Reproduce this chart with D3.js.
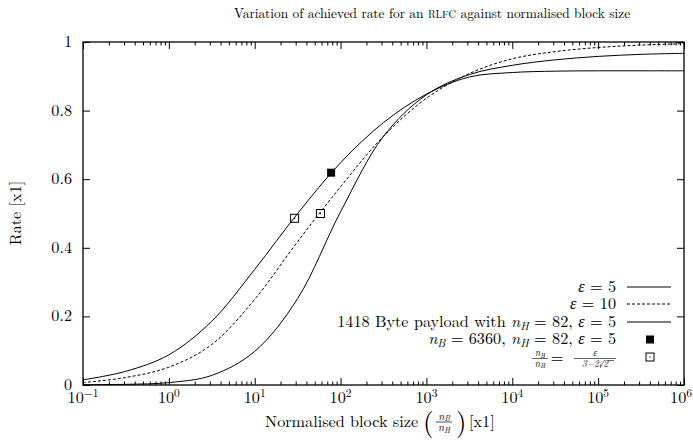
<!DOCTYPE html>
<html><head><meta charset="utf-8">
<script src="https://cdn.jsdelivr.net/npm/d3@7"></script>
<style>body{margin:0;background:#fff}</style>
</head><body><svg id="c" width="693" height="442"></svg>
<script>
// ---- data ----
const xValues = [0.1, 0.316, 1, 3.16, 10, 31.6, 100, 316, 1000, 3162, 10000, 31623, 100000, 316228, 1000000];
const eps5 =        [0.015, 0.040, 0.088, 0.186, 0.337, 0.500, 0.648, 0.765, 0.848, 0.898, 0.911, 0.915, 0.916, 0.916, 0.916];
const eps10 =       [0.007, 0.022, 0.052, 0.118, 0.250, 0.418, 0.578, 0.725, 0.836, 0.908, 0.951, 0.972, 0.984, 0.991, 0.995];
const payload1418 = [0.001, 0.002, 0.007, 0.028, 0.098, 0.252, 0.505, 0.725, 0.846, 0.905, 0.932, 0.948, 0.958, 0.964, 0.967];
const filledX = [77.56], filledY = [0.619];
const openX = [29.14, 58.28], openY = [0.486, 0.500];
const xTicks = [1e-1, 1e0, 1e1, 1e2, 1e3, 1e4, 1e5, 1e6];
const xTickExp = ["\u22121", "0", "1", "2", "3", "4", "5", "6"];
const yTicks = [0, 0.2, 0.4, 0.6, 0.8, 1];
const yTickLabels = ["0", "0.2", "0.4", "0.6", "0.8", "1"];

// ---- layout ----
const svg = d3.select("#c");
const L = 83, R = 684, T = 42, B = 385;
const x = d3.scaleLog().domain([0.1, 1e6]).range([L, R]);
const y = d3.scaleLinear().domain([0, 1]).range([B, T]);
const FS = 16.2;

const minor = [];
for (let e = -1; e < 6; e++) for (let m = 2; m <= 9; m++) minor.push(m * Math.pow(10, e));

function styleAxis(g){ g.select(".domain").remove(); g.selectAll("line").attr("stroke","#000").attr("stroke-width",1); g.selectAll("text").remove(); }
svg.append("g").attr("transform",`translate(0,${B})`).call(d3.axisBottom(x).tickValues(xTicks).tickSize(-7)).call(styleAxis);
svg.append("g").attr("transform",`translate(0,${B})`).call(d3.axisBottom(x).tickValues(minor).tickSize(-3.5)).call(styleAxis);
svg.append("g").attr("transform",`translate(0,${T})`).call(d3.axisTop(x).tickValues(xTicks).tickSize(-7)).call(styleAxis);
svg.append("g").attr("transform",`translate(0,${T})`).call(d3.axisTop(x).tickValues(minor).tickSize(-3.5)).call(styleAxis);
svg.append("g").attr("transform",`translate(${L},0)`).call(d3.axisLeft(y).tickValues(yTicks).tickSize(-7)).call(styleAxis);
svg.append("g").attr("transform",`translate(${R},0)`).call(d3.axisRight(y).tickValues(yTicks).tickSize(-7)).call(styleAxis);

svg.append("rect").attr("x",L).attr("y",T).attr("width",R-L).attr("height",B-T).attr("fill","none").attr("stroke","#000").attr("stroke-width",1.3);

xTicks.forEach((v,i)=>{
  const last = i === xTicks.length - 1;
  const t = svg.append("text").attr("x", last ? 692 : x(v)).attr("y", B+18).attr("text-anchor", last ? "end" : "middle").attr("font-size",FS);
  t.append("tspan").text("10");
  t.append("tspan").attr("dy",-6).attr("font-size",11.5).text(xTickExp[i]);
});
yTicks.forEach((v,i)=>{
  svg.append("text").attr("x", L-11).attr("y", y(v)+5).attr("text-anchor","end").attr("font-size",FS).text(yTickLabels[i]);
});

const title = svg.append("text").attr("x",432).attr("y",18).attr("text-anchor","middle").attr("font-size",13.35);
title.append("tspan").text("Variation of achieved rate for an ");
title.append("tspan").attr("font-size",10.4).text("RLFC");
title.append("tspan").text(" against normalised block size");

svg.append("text").attr("transform","translate(21,213) rotate(-90)").attr("text-anchor","middle").attr("font-size",FS).text("Rate [x1]");

function frac(gx, cy, num, numSub, den, denSub, fs){
  const g = svg.append("g");
  const n = g.append("text").attr("x",gx).attr("y",cy-2.5).attr("text-anchor","middle").attr("font-size",fs).attr("font-style","italic");
  n.append("tspan").text(num); if(numSub) n.append("tspan").attr("font-size",fs*0.7).attr("dy",1.5).text(numSub);
  const d = g.append("text").attr("x",gx).attr("y",cy+fs*0.85).attr("text-anchor","middle").attr("font-size",fs).attr("font-style","italic");
  d.append("tspan").text(den); if(denSub) d.append("tspan").attr("font-size",fs*0.7).attr("dy",1.5).text(denSub);
  return g;
}
svg.append("text").attr("x",265).attr("y",427).attr("font-size",FS).text("Normalised block size");
svg.append("text").attr("x",423).attr("y",431).attr("font-size",27).text("(");
frac(444, 422, "n","B","n","H",11);
svg.append("line").attr("x1",436).attr("x2",452).attr("y1",422).attr("y2",422).attr("stroke","#000").attr("stroke-width",0.7);
svg.append("text").attr("x",456).attr("y",431).attr("font-size",27).text(")");
svg.append("text").attr("x",469).attr("y",427).attr("font-size",FS).text("[x1]");

const line = d3.line().x(d=>x(d[0])).y(d=>y(d[1])).curve(d3.curveCatmullRom.alpha(0.5));
const series = [
  {vals: eps5, dash: null},
  {vals: eps10, dash: "3,2"},
  {vals: payload1418, dash: null}
];
series.forEach(s=>{
  svg.append("path").datum(xValues.map((v,i)=>[v, s.vals[i]]))
    .attr("d", line).attr("fill","none").attr("stroke","#000").attr("stroke-width",1)
    .attr("stroke-dasharray", s.dash);
});

function filledSq(cx, cy){ svg.append("rect").attr("x",cx-4).attr("y",cy-4).attr("width",8).attr("height",8).attr("fill","#000"); }
function openSq(cx, cy){
  svg.append("rect").attr("x",cx-4).attr("y",cy-4).attr("width",8).attr("height",8).attr("fill","none").attr("stroke","#000").attr("stroke-width",1);
  svg.append("rect").attr("x",cx-0.6).attr("y",cy-0.6).attr("width",1.2).attr("height",1.2).attr("fill","#000");
}
filledX.forEach((v,i)=>filledSq(x(v), y(filledY[i])));
openX.forEach((v,i)=>openSq(x(v), y(openY[i])));

// legend
const LX = 616, S1 = 627, S2 = 671;
function legText(yb){ const t = svg.append("text").attr("x",LX).attr("y",yb).attr("text-anchor","end").attr("font-size",FS); t.node()._pend = 0; return t; }
function add(t, s, italic){ const ts = t.append("tspan").text(s); if(italic) ts.attr("font-style","italic"); const p = t.node()._pend; if(p){ ts.attr("dy",p); t.node()._pend = 0; } return ts; }
function it(t, s){ add(t, s, true); }
function plain(t, s){ add(t, s, false); }
function sub(t, s){ const ts = add(t, s, true); ts.attr("font-size",11.5).attr("dy",3); t.node()._pend = -3; }

let t = legText(292); it(t,"\u03b5"); plain(t," = 5");
svg.append("line").attr("x1",S1).attr("x2",S2).attr("y1",287).attr("y2",287).attr("stroke","#000");
t = legText(309); it(t,"\u03b5"); plain(t," = 10");
svg.append("line").attr("x1",S1).attr("x2",S2).attr("y1",304).attr("y2",304).attr("stroke","#000").attr("stroke-dasharray","3,2");
t = legText(326.5); plain(t,"1418 Byte payload with "); it(t,"n"); sub(t,"H"); plain(t," = 82, "); it(t,"\u03b5"); plain(t," = 5");
svg.append("line").attr("x1",S1).attr("x2",S2).attr("y1",322).attr("y2",322).attr("stroke","#000");
t = legText(343.5); it(t,"n"); sub(t,"B"); plain(t," = 6360, "); it(t,"n"); sub(t,"H"); plain(t," = 82, "); it(t,"\u03b5"); plain(t," = 5");
filledSq(650, 339.5);
// fraction row
const FC = 358.5;
frac(540, FC, "n","B","n","H",9.5);
svg.append("line").attr("x1",532).attr("x2",548).attr("y1",FC).attr("y2",FC).attr("stroke","#000").attr("stroke-width",0.6);
svg.append("text").attr("x",557).attr("y",FC+4.5).attr("text-anchor","middle").attr("font-size",FS).text("=");
frac(595, FC, "\u03b5", null, "3\u22122\u221a2", null, 9.5);
svg.append("line").attr("x1",574).attr("x2",616).attr("y1",FC).attr("y2",FC).attr("stroke","#000").attr("stroke-width",0.6);
svg.append("line").attr("x1",607.5).attr("x2",614).attr("y1",FC+2).attr("y2",FC+2).attr("stroke","#000").attr("stroke-width",0.6);
openSq(650, 357);

svg.selectAll("text").style("font-family", '"Latin Modern Roman", "Liberation Serif", serif');
</script></body></html>
